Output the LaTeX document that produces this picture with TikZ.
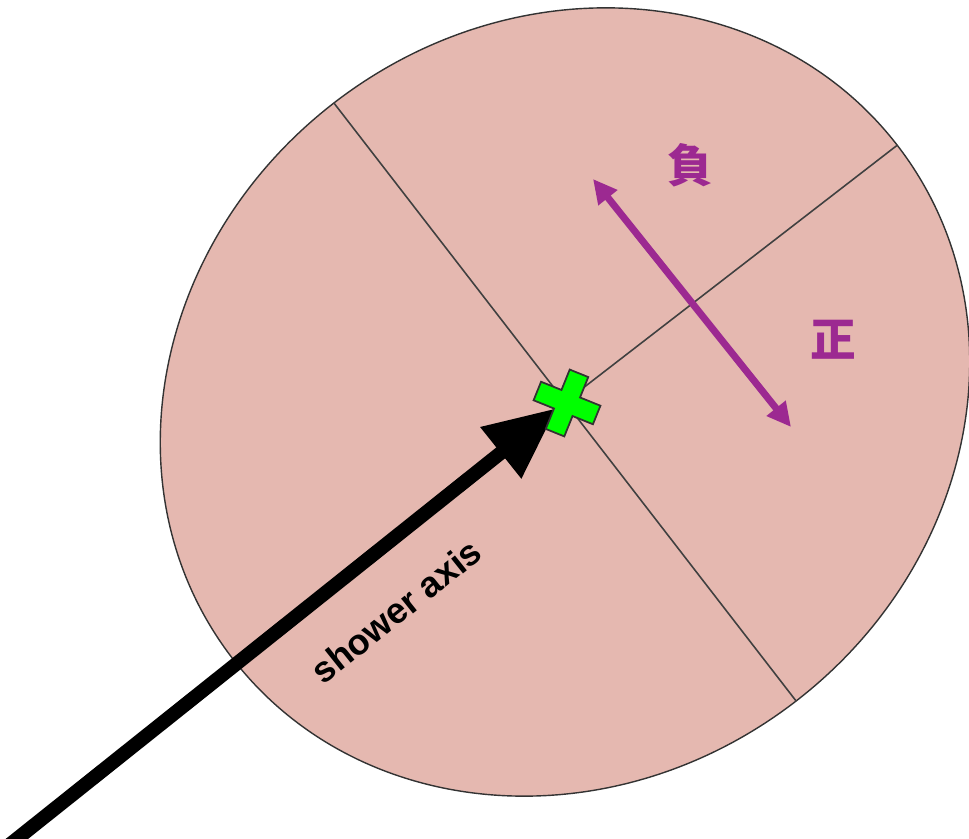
\documentclass[tikz,border=0pt]{standalone}
\usepackage{fontspec}
\setmainfont{Liberation Sans}
\newfontfamily\cjk{Noto Sans CJK TC}
\usetikzlibrary{arrows.meta,shapes.geometric}
\definecolor{disco}{rgb}{0.90,0.72,0.69}
\definecolor{morado}{rgb}{0.61,0.16,0.57}
\definecolor{verde}{rgb}{0.0,1.0,0.0}
\tikzset{
  plano/.style={
    ellipse,
    draw=black!80,
    line width=0.8pt,
    fill=disco,
    inner sep=0pt,
    outer sep=0pt,
    minimum width=16.8cm,
    minimum height=15.12cm
  },
  eje/.style={
    line width=0.9pt,
    black!75
  },
  ducha/.style={
    -{Triangle[length=1.44cm,width=1.24cm]},
    line width=0.28cm,
    black
  },
  signo/.style={
    {Triangle[length=0.48cm,width=0.46cm]}-{Triangle[length=0.48cm,width=0.46cm]},
    line width=0.14cm,
    morado
  },
  etiqueta/.style={
    font=\cjk\bfseries\fontsize{26}{30}\selectfont,
    text=morado,
    inner sep=0pt
  },
  rotulo/.style={
    font=\bfseries\fontsize{20.5}{24}\selectfont,
    inner sep=0pt
  },
  cruz/.style={
    draw=black!80,
    line width=1pt,
    fill=verde,
    line join=miter
  }
}
\begin{document}
\begin{tikzpicture}[x=0.02cm,y=0.02cm]
\useasboundingbox (0,0) rectangle (969,838);
\node[plano,rotate=37.7] (d) at (565,436) {};
\draw[eje] (d.north) -- (d.south);
\draw[eje] (d.east) -- (d.center);
\coordinate (cola) at (8,-8);
\coordinate (punta) at (557,430);
\draw[ducha] (cola) -- (punta);
\node[rotulo,rotate=38.6] (sa) at (396,227) {shower axis};
\coordinate (s1) at (593,659);
\coordinate (s2) at (791,411);
\draw[signo] (s1) -- (s2);
\node[etiqueta] (neg) at (690,673) {負};
\node[etiqueta] (pos) at (833,498) {正};
\coordinate (x) at (567,435);
\draw[cruz,shift={(x)},rotate=-22]
  (-32,-10) -- (-10,-10) -- (-10,-32) -- (10,-32) -- (10,-10) -- (32,-10) --
  (32,10) -- (10,10) -- (10,32) -- (-10,32) -- (-10,10) -- (-32,10) -- cycle;
\end{tikzpicture}
\end{document}
